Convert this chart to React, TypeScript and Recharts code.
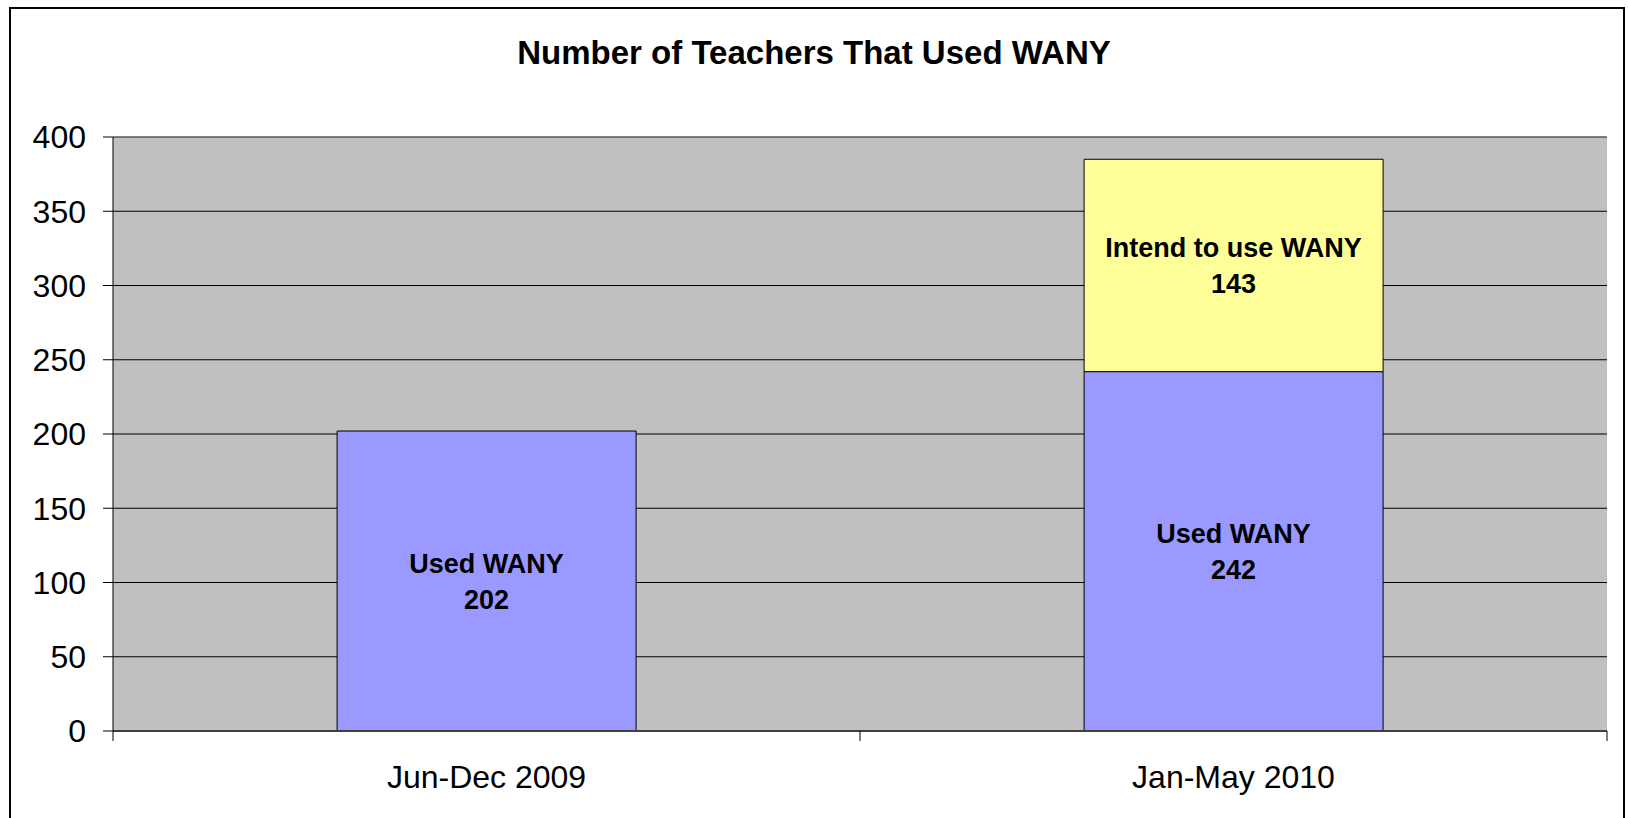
import { BarChart, Bar, XAxis, YAxis, CartesianGrid, LabelList, ReferenceLine } from "recharts"

const FONT = "'Liberation Sans', Arial, sans-serif"

const categories = ["Jun-Dec 2009", "Jan-May 2010"]
const usedWany = [202, 242]
const intendWany = [null, 143]
const yTicks = [0, 50, 100, 150, 200, 250, 300, 350, 400]

const data = categories.map((c, i) => ({
  period: c,
  used: usedWany[i],
  intend: intendWany[i]
}))

const X_TICK = 10
const X_MARGIN = 24

// Excel style: tick marks sit between categories, labels in the middle
function CategoryTick(props: any) {
  const { x, y, payload, index, visibleTicksCount, width } = props
  const half = width / visibleTicksCount / 2
  const y1 = y - X_TICK - X_MARGIN
  const y2 = y - X_MARGIN
  return (
    <g>
      <line x1={x - half} x2={x - half} y1={y1} y2={y2} stroke="#000" />
      {index === visibleTicksCount - 1 && (
        <line x1={x + half} x2={x + half} y1={y1} y2={y2} stroke="#000" />
      )}
      <text x={x} y={y} dy="0.71em" textAnchor="middle" fontFamily={FONT} fontSize={32} fill="#000">
        {payload.value}
      </text>
    </g>
  )
}

const barLabel = (name: string) => (props: any) => {
  const vb = props.viewBox ?? props
  const { x, y, width, height } = vb
  const value = props.value
  if (value == null || value === 0) return null
  const cx = x + width / 2
  const cy = y + height / 2
  return (
    <text x={cx} y={cy} textAnchor="middle" fontFamily={FONT} fontWeight="bold" fontSize={27} fill="#000">
      <tspan x={cx} dy={-8}>{name}</tspan>
      <tspan x={cx} dy={36}>{value}</tspan>
    </text>
  )
}

export default function App() {
  return (
    <div style={{ position: "absolute", left: 0, top: 0, width: 1628, height: 818, overflow: "hidden", background: "#fff" }}>
      <div style={{ position: "absolute", left: 9, top: 7, width: 1612, height: 840, border: "2px solid #000" }} />
      <div
        style={{
          position: "absolute",
          left: 0,
          top: 36,
          width: 1628,
          textAlign: "center",
          fontFamily: FONT,
          fontWeight: "bold",
          fontSize: 33,
          lineHeight: "33px"
        }}
      >
        Number of Teachers That Used WANY
      </div>
      <div style={{ position: "absolute", left: 0, top: 0 }}>
        <BarChart
          width={1628}
          height={818}
          data={data}
          margin={{ top: 137, right: 21, bottom: 0, left: 13 }}
          barCategoryGap="30%"
        >
          <CartesianGrid vertical={false} stroke="#000" fill="#c0c0c0" fillOpacity={1} />
          <ReferenceLine y={400} stroke="#808080" />
          <XAxis
            dataKey="period"
            height={87}
            axisLine={{ stroke: "#404040", strokeWidth: 2 }}
            tickLine={{ stroke: "none" }}
            tickSize={X_TICK}
            tickMargin={X_MARGIN}
            tick={<CategoryTick />}
            interval={0}
          />
          <YAxis
            width={100}
            domain={[0, 400]}
            ticks={yTicks}
            interval={0}
            axisLine={{ stroke: "#000" }}
            tickLine={{ stroke: "#000" }}
            tickSize={10}
            tickMargin={17}
            tick={{ fontFamily: FONT, fontSize: 32, fill: "#000" }}
          />
          <YAxis
            yAxisId="right"
            orientation="right"
            width={0}
            domain={[0, 400]}
            axisLine={{ stroke: "#808080" }}
            tick={false}
            tickLine={false}
          />
          <Bar dataKey="used" stackId="a" fill="#9999ff" stroke="#000" strokeWidth={1} isAnimationActive={false}>
            <LabelList dataKey="used" content={barLabel("Used WANY")} />
          </Bar>
          <Bar dataKey="intend" stackId="a" fill="#ffff99" stroke="#000" strokeWidth={1} isAnimationActive={false}>
            <LabelList dataKey="intend" content={barLabel("Intend to use WANY")} />
          </Bar>
        </BarChart>
      </div>
    </div>
  )
}
